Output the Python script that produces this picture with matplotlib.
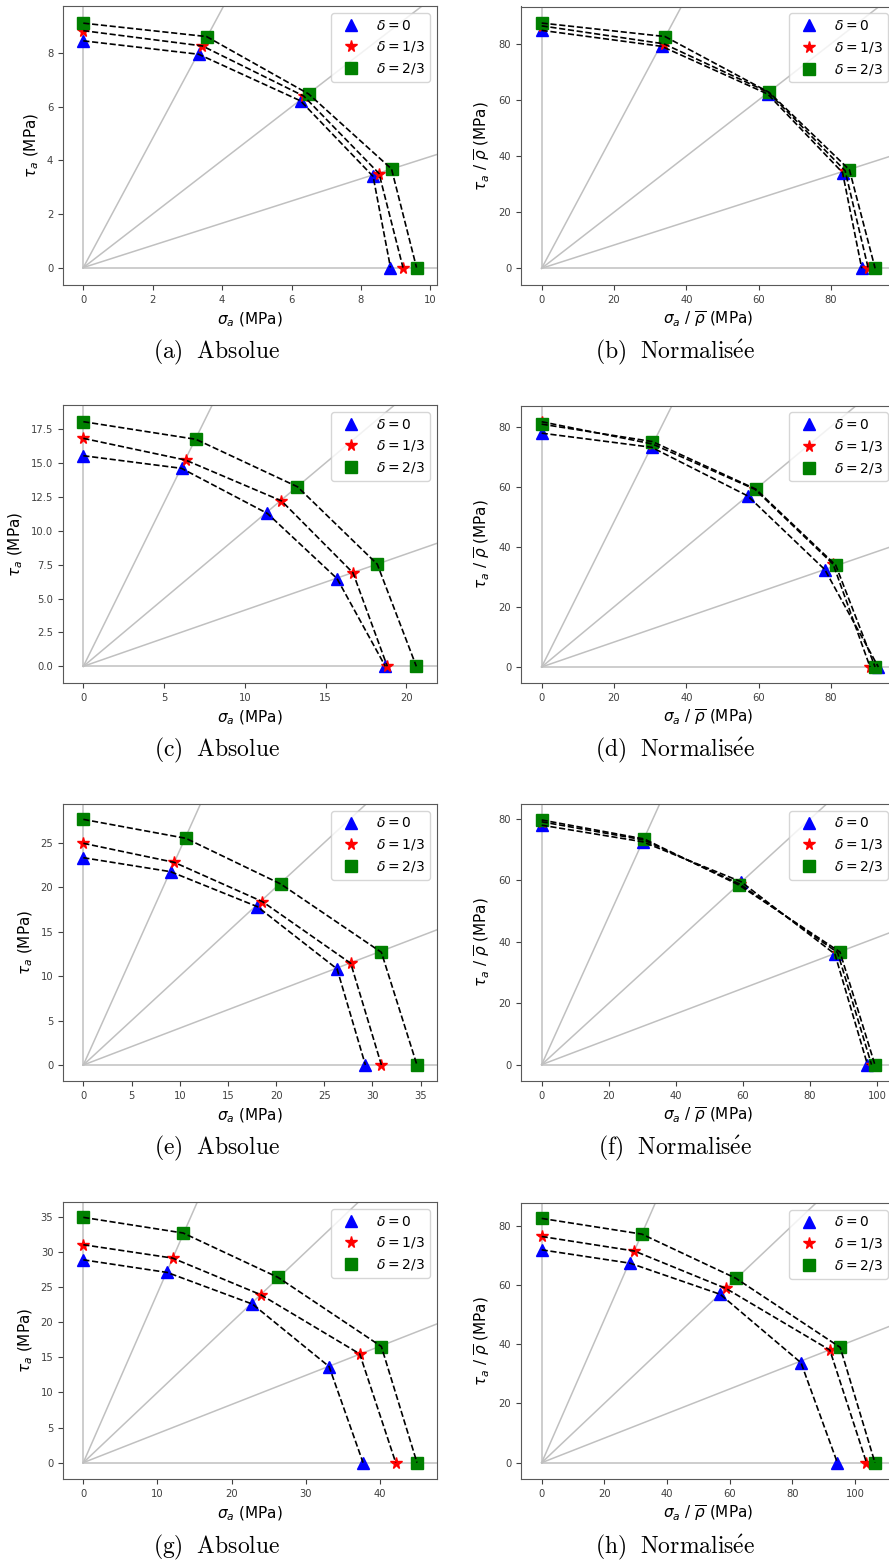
import numpy as np
import matplotlib
matplotlib.use('Agg')
from matplotlib import pyplot as plt

# rays (degrees) on which the points lie
angles = [90, 67.5, 45, 22.5, 0]
delta_labels = [r'$\delta = 0$', r'$\delta = 1/3$', r'$\delta = 2/3$']

# sigma / tau values, one list per delta (0, 1/3, 2/3), ordered 90 -> 0 deg
sig_a = [[0, 3.32, 6.26, 8.35, 8.85], [0, 3.43, 6.35, 8.52, 9.21], [0, 3.55, 6.49, 8.88, 9.60]]
tau_a = [[8.46, 7.96, 6.22, 3.40, 0], [8.84, 8.27, 6.40, 3.51, 0], [9.12, 8.62, 6.48, 3.68, 0]]

sig_b = [[0, 33.2, 62.5, 83.2, 88.5], [0, 33.8, 62.7, 83.9, 90.3], [0, 34.1, 62.9, 85.1, 92.2]]
tau_b = [[84.8, 79.1, 62.1, 34.1, 0], [86.4, 80.0, 62.7, 34.8, 0], [87.4, 82.6, 62.7, 35.1, 0]]

sig_c = [[0, 6.08, 11.4, 15.71, 18.7], [0, 6.33, 12.27, 16.7, 18.82], [0, 6.97, 13.26, 18.2, 20.62]]
tau_c = [[15.53, 14.6, 11.27, 6.47, 0], [16.81, 15.21, 12.2, 6.89, 0], [18.04, 16.74, 13.24, 7.53, 0]]

sig_d = [[0, 30.4, 57.0, 78.3, 93.1], [0, 30.6, 59.0, 80.6, 90.8], [0, 30.6, 59.2, 81.3, 92.2]]
tau_d = [[77.8, 73.1, 56.9, 32.4, 0], [81.6, 74.2, 59.1, 34.2, 0], [80.8, 75.0, 59.2, 33.9, 0]]

sig_e = [[0, 9.05, 18.07, 26.33, 29.27], [0, 9.43, 18.59, 27.75, 30.93], [0, 10.64, 20.49, 30.93, 34.62]]
tau_e = [[23.31, 21.74, 17.8, 10.8, 0], [24.93, 22.79, 18.37, 11.43, 0], [27.62, 25.49, 20.35, 12.67, 0]]

sig_f = [[0, 30.1, 59.4, 87.4, 97.1], [0, 30.4, 59.1, 88.2, 98.3], [0, 30.6, 58.8, 88.9, 99.3]]
tau_f = [[78.0, 72.6, 59.6, 36.0, 0], [79.1, 73.2, 58.8, 36.5, 0], [79.7, 73.5, 58.5, 36.7, 0]]

sig_g = [[0, 11.33, 22.83, 33.17, 37.75], [0, 12.04, 23.96, 37.3, 42.16], [0, 13.48, 26.29, 40.22, 45.03]]
tau_g = [[28.9, 27.1, 22.59, 13.69, 0], [31.05, 29.15, 23.92, 15.5, 0], [34.95, 32.72, 26.39, 16.55, 0]]

sig_h = [[0, 28.2, 57.0, 82.8, 94.4], [0, 29.6, 58.8, 92.0, 103.7], [0, 32.0, 62.0, 95.3, 106.4]]
tau_h = [[71.8, 67.3, 56.8, 33.7, 0], [76.3, 71.4, 58.8, 38.0, 0], [82.4, 77.1, 62.2, 38.9, 0]]

captions = [r'(a)\ \ Absolue', r'(b)\ \ Normalis\acute{e}e', r'(c)\ \ Absolue', r'(d)\ \ Normalis\acute{e}e',
            r'(e)\ \ Absolue', r'(f)\ \ Normalis\acute{e}e', r'(g)\ \ Absolue', r'(h)\ \ Normalis\acute{e}e']

# layout: pixel boxes (left, top, right, bottom) and axis limits
W, H = 889, 1563
panels = [
    (sig_a, tau_a, (63, 6, 437, 285), (-0.585, 10.19), (-0.65, 9.76), False),
    (sig_b, tau_b, (521, 6.5, 895, 285), (-5.71, 97.7), (-5.95, 93.3), True),
    (sig_c, tau_c, (63, 405, 437, 683), (-1.26, 21.9), (-1.23, 19.27), False),
    (sig_d, tau_d, (521, 405.5, 895, 683), (-5.71, 97.7), (-5.33, 87.0), True),
    (sig_e, tau_e, (63, 804, 437, 1081), (-2.11, 36.7), (-1.8, 29.35), False),
    (sig_f, tau_f, (521, 804, 895, 1081), (-6.16, 105.3), (-5.33, 84.9), True),
    (sig_g, tau_g, (63, 1202, 437, 1479), (-2.74, 47.73), (-2.33, 37.14), False),
    (sig_h, tau_h, (521, 1203, 895, 1479), (-6.6, 112.8), (-5.5, 87.6), True),
]
caption_pos = [(217, 352), (675, 352), (217, 750), (675, 750),
               (217, 1148), (675, 1148), (217, 1547), (675, 1547)]

colors = ['blue', 'red', 'green']
markers = ['^', '*', 's']
msizes = [8.8, 8.5, 8.6]

fig = plt.figure(figsize=(W / 100, H / 100), dpi=100)

for k, (sig, tau, box, xl, yl, norm) in enumerate(panels):
    l, t, r, b = box
    ax = fig.add_axes([l / W, 1 - b / H, (r - l) / W, (b - t) / H])
    ax.set_xlim(*xl)
    ax.set_ylim(*yl)

    # radial lines from the origin
    for th in angles:
        rad = np.deg2rad(th)
        ax.plot([0, 1000 * np.cos(rad)], [0, 1000 * np.sin(rad)], color='#c0c0c0',
                linewidth=1.1, zorder=1, scalex=False, scaley=False)

    handles = []
    for i in range(3):
        h, = ax.plot(sig[i], tau[i], linestyle='none', marker=markers[i], color=colors[i],
                     markersize=msizes[i], zorder=3, label=delta_labels[i])
        handles.append(h)
        ax.plot(sig[i], tau[i], '--', color='black', linewidth=1.2, zorder=4)

    ax.legend(handles=handles, loc='upper right', fontsize=10)

    if norm:
        ax.set_xlabel(r'$\sigma_a$ / $\overline{\rho}$ (MPa)', fontsize=11)
        ax.set_ylabel(r'$\tau_a$ / $\overline{\rho}$ (MPa)', fontsize=11)
    else:
        ax.set_xlabel(r'$\sigma_a$ (MPa)', fontsize=11)
        ax.set_ylabel(r'$\tau_a$ (MPa)', fontsize=11)
    ax.tick_params(labelsize=7.2, colors='0.25')
    for s in ax.spines.values():
        s.set_color('0.35')

    cx, cy = caption_pos[k]
    fig.text(cx / W, 1 - cy / H, '$\\mathrm{' + captions[k] + '}$', ha='center', va='center',
             fontsize=17, math_fontfamily='cm')

fig.savefig('out.png', dpi=100)
